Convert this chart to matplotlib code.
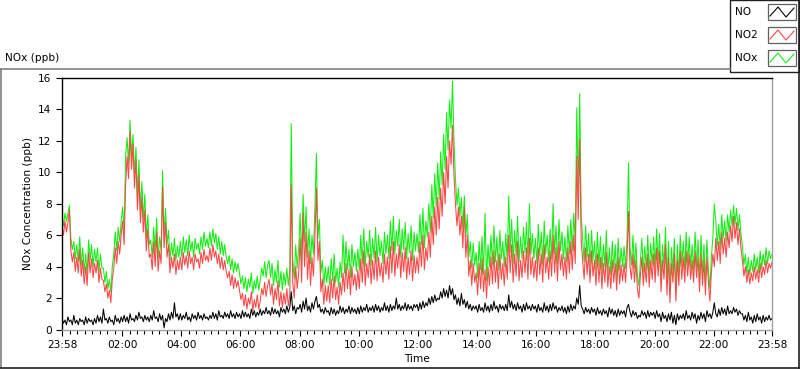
import numpy as np
import matplotlib
matplotlib.use("Agg")
import matplotlib.pyplot as plt
from matplotlib.lines import Line2D
from matplotlib.patches import Rectangle

plt.rcParams['font.family'] = ['DejaVu Sans']

# ---------------- data (3-minute samples, one row per hour after 23:58) ----------------
no2_rows = [
    [6.6, 6.0, 6.9, 6.2, 6.8, 7.6, 5.0, 4.3, 4.9, 3.7, 4.6, 3.6, 5.1, 3.4, 4.4, 2.9, 4.0, 2.8, 4.9, 3.6],
    [4.5, 3.3, 4.2, 3.6, 4.4, 3.0, 3.9, 3.2, 3.1, 2.4, 2.9, 2.0, 2.5, 1.7, 3.2, 3.9, 5.2, 4.2, 5.6, 4.8],
    [6.0, 6.9, 5.4, 9.2, 11.0, 9.6, 12.6, 10.2, 11.8, 9.0, 10.8, 7.6, 9.8, 6.8, 8.4, 6.2, 7.6, 5.0, 6.4, 4.6],
    [4.8, 3.8, 5.6, 4.0, 6.2, 3.7, 5.0, 4.2, 9.1, 5.2, 6.8, 4.6, 5.4, 3.6, 4.6, 3.9, 4.8, 3.5, 4.4, 3.8],
    [4.6, 3.8, 4.9, 4.1, 4.7, 3.9, 5.0, 4.2, 4.6, 3.8, 4.8, 4.3, 4.5, 3.9, 4.9, 4.2, 5.1, 4.4, 4.7, 4.3],
    [5.2, 4.4, 5.4, 4.6, 5.0, 4.2, 4.8, 3.9, 4.6, 3.8, 4.4, 3.7, 3.3, 3.7, 2.8, 3.5, 2.6, 3.3, 2.7, 3.1],
    [2.5, 1.9, 2.3, 1.5, 2.2, 1.3, 2.0, 1.6, 2.4, 1.2, 1.9, 1.4, 2.2, 1.3, 1.8, 2.6, 2.2, 3.0, 2.1, 2.8],
    [3.2, 2.2, 2.9, 1.6, 2.6, 1.9, 3.1, 1.5, 2.4, 1.4, 2.3, 1.6, 2.6, 1.5, 2.2, 9.2, 3.0, 2.0, 4.0, 2.6],
    [3.6, 5.8, 3.0, 7.4, 4.0, 6.2, 3.2, 5.0, 2.8, 4.6, 3.4, 6.0, 9.0, 4.4, 5.6, 2.4, 3.2, 1.6, 2.8, 1.8],
    [2.8, 1.7, 3.2, 2.0, 3.4, 1.9, 2.7, 1.6, 3.0, 2.2, 3.6, 2.4, 4.2, 2.6, 3.8, 2.2, 4.0, 2.8, 3.5, 2.5],
    [3.8, 2.6, 4.5, 3.0, 5.0, 2.8, 4.2, 3.3, 4.8, 2.9, 4.4, 3.2, 5.0, 3.1, 4.6, 3.4, 4.2, 3.0, 4.8, 3.5],
    [4.6, 3.2, 5.3, 3.6, 5.6, 3.4, 4.8, 3.9, 5.4, 3.3, 4.9, 3.7, 5.2, 3.2, 4.6, 3.5, 5.0, 3.1, 4.7, 3.6],
    [4.6, 3.6, 5.6, 4.0, 6.0, 3.8, 5.2, 4.4, 6.2, 4.6, 7.2, 5.4, 7.8, 6.0, 8.4, 6.4, 9.0, 7.2, 10.0, 8.0],
    [11.0, 9.0, 12.0, 10.5, 13.0, 9.8, 8.0, 6.6, 7.8, 6.0, 7.2, 5.2, 7.8, 4.6, 6.0, 3.4, 4.4, 2.8, 4.2, 3.0],
    [3.6, 2.2, 4.2, 2.6, 4.5, 2.4, 3.8, 2.0, 4.0, 2.8, 4.6, 2.9, 5.0, 3.0, 4.4, 2.6, 4.8, 3.2, 4.2, 2.8],
    [4.6, 3.2, 6.0, 3.6, 5.4, 3.0, 4.8, 3.4, 5.6, 3.1, 4.4, 3.3, 5.0, 3.6, 5.2, 3.2, 5.8, 3.5, 4.6, 3.3],
    [4.4, 3.1, 5.2, 3.5, 4.8, 3.0, 5.4, 3.6, 4.6, 3.2, 5.0, 3.4, 6.0, 3.6, 5.2, 3.1, 5.6, 3.8, 4.8, 3.4],
    [4.6, 3.2, 5.2, 3.6, 5.6, 3.8, 6.0, 4.2, 11.0, 7.0, 12.1, 5.6, 4.4, 3.2, 5.2, 3.5, 4.8, 3.0, 5.0, 3.4],
    [4.4, 2.8, 4.8, 3.0, 4.6, 2.6, 4.2, 3.0, 4.9, 2.7, 4.0, 2.6, 4.4, 3.0, 4.2, 2.5, 4.6, 2.9, 4.1, 3.1],
    [4.2, 3.0, 4.6, 7.5, 4.0, 3.2, 4.8, 3.0, 4.4, 2.6, 2.0, 3.4, 4.6, 2.8, 4.2, 3.0, 4.8, 2.7, 4.4, 3.2],
    [4.8, 3.0, 5.2, 3.4, 5.0, 2.4, 4.4, 3.2, 5.4, 2.2, 4.6, 1.7, 4.2, 3.0, 4.8, 1.8, 4.4, 2.8, 5.0, 3.2],
    [4.6, 3.0, 5.0, 3.4, 4.8, 3.2, 4.4, 3.0, 5.0, 3.3, 4.6, 2.4, 4.8, 2.8, 4.4, 2.2, 4.6, 3.0, 1.8, 3.6],
    [4.8, 4.0, 5.8, 4.4, 5.6, 4.2, 6.2, 4.8, 5.8, 4.6, 6.2, 5.2, 6.6, 5.6, 7.2, 5.8, 6.8, 5.4, 6.4, 5.2],
    [4.4, 3.4, 4.0, 3.0, 3.8, 2.9, 3.6, 3.1, 4.0, 3.2, 3.8, 3.0, 4.2, 3.3, 4.0, 3.5, 4.4, 3.6, 4.2, 3.9],
    [4.3],
]
nox_rows = [
    [7.3, 6.6, 7.4, 6.9, 7.4, 7.9, 5.8, 5.1, 5.6, 4.5, 5.4, 4.3, 5.9, 4.1, 5.2, 3.6, 4.8, 3.5, 5.7, 4.4],
    [5.4, 4.0, 5.1, 4.3, 5.2, 3.7, 4.8, 3.9, 3.9, 3.0, 3.7, 2.6, 3.2, 2.4, 4.0, 4.8, 6.2, 5.0, 6.5, 5.6],
    [6.9, 7.8, 6.2, 11.0, 12.2, 10.5, 13.3, 11.0, 12.4, 9.8, 11.6, 8.5, 10.8, 7.6, 9.4, 7.0, 8.6, 5.8, 7.3, 5.4],
    [5.7, 4.6, 6.5, 4.9, 7.1, 4.5, 5.9, 5.0, 10.1, 6.0, 7.7, 5.4, 6.3, 4.4, 5.5, 4.7, 5.8, 4.4, 5.3, 4.6],
    [5.6, 4.6, 5.9, 4.9, 5.7, 4.7, 6.0, 5.0, 5.6, 4.6, 5.8, 5.1, 5.5, 4.8, 5.9, 5.1, 6.2, 5.3, 5.8, 5.2],
    [6.2, 5.3, 6.4, 5.5, 6.1, 5.1, 5.9, 4.8, 5.6, 4.7, 5.4, 4.6, 4.2, 4.7, 3.8, 4.5, 3.6, 4.3, 3.7, 4.2],
    [3.6, 2.9, 3.4, 2.6, 3.3, 2.4, 3.2, 2.7, 3.6, 2.3, 3.1, 2.6, 3.4, 2.5, 3.1, 3.9, 3.4, 4.3, 3.3, 4.1],
    [4.4, 3.3, 4.2, 2.8, 3.8, 3.0, 4.4, 2.7, 3.7, 2.5, 3.6, 2.8, 3.9, 2.8, 3.8, 13.1, 4.4, 3.2, 5.4, 3.9],
    [5.2, 7.4, 4.4, 8.6, 5.6, 7.8, 4.6, 6.4, 4.2, 6.0, 4.8, 7.8, 11.2, 5.8, 7.0, 3.6, 4.4, 2.8, 4.0, 3.0],
    [4.0, 2.8, 4.5, 3.1, 4.8, 3.0, 3.9, 2.7, 4.3, 3.3, 6.0, 3.6, 5.6, 3.8, 5.1, 3.3, 5.4, 4.0, 4.9, 3.7],
    [5.1, 3.8, 6.0, 4.2, 6.4, 4.0, 5.6, 4.6, 6.3, 4.1, 5.8, 4.5, 6.5, 4.3, 6.0, 4.7, 5.6, 4.2, 6.2, 4.8],
    [6.0, 4.5, 6.9, 5.0, 7.2, 4.8, 6.3, 5.3, 7.0, 4.6, 6.4, 5.1, 6.8, 4.5, 6.1, 4.9, 6.6, 4.4, 6.2, 5.0],
    [6.1, 4.9, 7.3, 5.4, 7.7, 5.2, 6.9, 5.9, 8.0, 6.2, 9.2, 7.1, 9.9, 7.8, 10.6, 8.3, 11.3, 9.2, 12.4, 10.2],
    [13.8, 11.4, 14.6, 12.8, 15.8, 12.0, 9.6, 7.9, 9.0, 7.2, 8.4, 6.4, 8.5, 5.9, 7.3, 4.6, 5.6, 3.9, 5.5, 4.1],
    [4.9, 3.3, 5.6, 3.8, 5.9, 3.5, 7.4, 3.1, 5.4, 4.0, 6.0, 4.1, 6.6, 4.3, 5.9, 3.8, 6.3, 4.5, 5.6, 4.0],
    [6.1, 4.4, 8.5, 4.9, 7.0, 4.2, 6.3, 4.7, 7.2, 4.3, 5.9, 4.5, 6.5, 4.9, 6.8, 4.4, 8.0, 4.8, 6.1, 4.5],
    [5.8, 4.2, 6.7, 4.7, 6.2, 4.1, 6.9, 4.8, 6.0, 4.3, 6.4, 4.5, 8.0, 4.8, 6.6, 4.2, 7.0, 5.0, 6.2, 4.5],
    [5.9, 4.3, 6.6, 4.8, 7.0, 5.0, 7.4, 5.5, 14.1, 8.8, 15.0, 7.2, 5.7, 4.3, 6.6, 4.6, 6.1, 4.0, 6.3, 4.4],
    [5.6, 3.8, 6.2, 4.0, 5.9, 3.5, 5.4, 4.0, 6.3, 3.6, 5.2, 3.5, 5.6, 3.9, 5.4, 3.3, 5.8, 3.8, 5.2, 4.0],
    [5.3, 3.9, 5.8, 10.6, 5.2, 4.1, 6.0, 3.9, 5.5, 3.4, 2.8, 4.3, 5.8, 3.6, 5.3, 3.8, 6.0, 3.5, 5.5, 4.1],
    [5.9, 3.9, 6.4, 4.2, 6.1, 3.1, 5.4, 4.0, 6.5, 2.9, 5.6, 2.3, 5.2, 3.7, 5.8, 2.4, 5.4, 3.5, 6.0, 4.0],
    [5.6, 3.8, 6.2, 4.1, 5.9, 3.9, 5.4, 3.7, 6.2, 4.0, 5.7, 3.1, 6.0, 3.5, 5.4, 2.9, 5.7, 3.8, 2.6, 4.6],
    [5.8, 8.0, 6.9, 5.3, 6.7, 5.1, 7.3, 5.8, 6.9, 5.6, 7.3, 6.2, 7.6, 6.6, 7.9, 6.7, 7.7, 6.3, 7.3, 6.1],
    [5.3, 4.1, 4.8, 3.6, 4.6, 3.5, 4.4, 3.7, 4.8, 3.8, 4.6, 3.6, 5.0, 3.9, 4.8, 4.1, 5.2, 4.2, 5.0, 4.5],
    [4.8],
]
no_rows = [
    [0.7, 0.4, 0.6, 0.3, 0.8, 0.5, 0.6, 0.3, 0.9, 0.4, 0.6, 0.3, 0.7, 0.5, 0.6, 0.3, 0.8, 0.4, 0.7, 0.5],
    [0.6, 0.3, 0.7, 0.4, 0.9, 0.5, 0.8, 0.4, 1.3, 0.6, 0.7, 0.4, 0.8, 0.5, 0.6, 0.3, 0.9, 0.5, 0.7, 0.4],
    [0.8, 0.5, 0.9, 0.5, 0.8, 0.4, 1.0, 0.6, 0.7, 0.5, 0.9, 0.6, 1.1, 0.7, 0.8, 0.5, 0.9, 0.6, 0.8, 0.5],
    [0.9, 0.6, 1.2, 0.7, 0.8, 0.5, 1.0, 0.6, 0.9, 0.1, 0.7, 0.5, 1.0, 0.6, 1.1, 0.7, 1.7, 0.8, 1.0, 0.6],
    [1.0, 0.6, 0.9, 0.7, 1.1, 0.6, 0.8, 0.5, 1.0, 0.7, 0.9, 0.6, 1.1, 0.7, 0.9, 0.6, 1.0, 0.7, 0.8, 0.6],
    [0.9, 0.7, 1.1, 0.7, 1.0, 0.6, 1.2, 0.8, 0.9, 0.7, 1.1, 0.8, 1.0, 0.7, 1.2, 0.8, 1.0, 0.7, 1.1, 0.8],
    [1.0, 0.7, 1.2, 0.8, 1.1, 0.8, 1.0, 0.7, 1.3, 0.9, 1.2, 0.8, 1.1, 0.9, 1.3, 0.9, 1.2, 1.0, 1.4, 1.0],
    [1.2, 0.9, 1.4, 1.0, 1.3, 1.0, 1.2, 0.8, 1.4, 1.1, 1.3, 1.0, 1.5, 1.1, 1.4, 2.4, 1.2, 1.5, 1.0, 1.4],
    [1.3, 1.6, 1.1, 1.8, 1.3, 2.0, 1.2, 1.5, 1.1, 1.7, 1.3, 1.8, 2.1, 1.4, 1.6, 1.1, 1.3, 1.0, 1.4, 1.1],
    [1.2, 0.9, 1.4, 1.0, 1.3, 0.9, 1.2, 1.0, 1.5, 1.1, 1.4, 1.0, 1.3, 1.1, 1.5, 1.0, 1.4, 1.1, 1.3, 1.0],
    [1.4, 1.0, 1.5, 1.1, 1.4, 1.2, 1.6, 1.1, 1.4, 1.2, 1.5, 1.1, 1.6, 1.2, 1.5, 1.1, 1.4, 1.2, 1.7, 1.2],
    [1.5, 1.1, 1.6, 1.2, 1.5, 1.3, 2.0, 1.3, 1.6, 1.2, 1.5, 1.3, 1.7, 1.2, 1.6, 1.3, 1.5, 1.2, 1.6, 1.4],
    [1.6, 1.2, 1.7, 1.3, 1.8, 1.4, 1.7, 1.5, 2.0, 1.6, 2.1, 1.7, 2.2, 1.8, 2.0, 1.9, 2.4, 2.0, 2.6, 2.1],
    [2.5, 2.0, 2.8, 2.2, 2.6, 1.9, 2.2, 1.6, 2.0, 1.5, 2.3, 1.6, 1.9, 1.4, 1.8, 1.3, 1.6, 1.2, 1.5, 1.3],
    [1.5, 1.1, 1.6, 1.2, 1.4, 1.1, 1.7, 1.2, 1.5, 1.1, 1.6, 1.2, 1.8, 1.3, 1.5, 1.1, 1.6, 1.3, 1.5, 1.2],
    [1.6, 1.2, 2.2, 1.4, 1.8, 1.3, 1.6, 1.2, 1.7, 1.3, 1.5, 1.1, 1.6, 1.2, 1.7, 1.3, 1.5, 1.2, 1.6, 1.3],
    [1.5, 1.1, 1.6, 1.2, 1.4, 1.1, 1.7, 1.2, 1.5, 1.1, 1.6, 1.2, 1.7, 1.3, 1.5, 1.1, 1.4, 1.2, 1.5, 1.1],
    [1.4, 1.0, 1.5, 1.1, 1.6, 1.2, 1.5, 1.3, 2.0, 1.6, 2.8, 1.5, 1.3, 1.0, 1.4, 1.1, 1.3, 1.0, 1.4, 1.1],
    [1.3, 0.9, 1.4, 1.0, 1.2, 0.9, 1.3, 1.0, 1.2, 0.8, 1.4, 1.0, 1.3, 0.9, 1.2, 0.8, 1.3, 0.9, 1.2, 1.0],
    [1.2, 0.8, 1.4, 1.6, 1.1, 0.8, 1.2, 0.9, 1.1, 0.7, 0.9, 0.8, 1.2, 0.9, 1.1, 0.7, 1.2, 0.8, 1.1, 0.9],
    [1.1, 0.7, 1.2, 0.8, 1.0, 0.5, 1.1, 0.7, 0.9, 0.5, 1.0, 0.6, 1.1, 0.4, 0.9, 0.3, 1.0, 0.6, 0.9, 0.7],
    [1.0, 0.6, 1.2, 0.7, 0.9, 0.6, 1.1, 0.7, 1.0, 0.4, 0.9, 0.6, 1.1, 0.7, 1.0, 0.5, 1.2, 0.8, 1.0, 0.7],
    [1.1, 1.7, 1.0, 0.8, 1.3, 0.9, 1.4, 1.0, 1.3, 0.9, 1.5, 1.0, 1.2, 1.0, 1.4, 1.1, 1.3, 0.9, 1.2, 1.0],
    [1.0, 0.6, 0.9, 0.5, 1.1, 0.6, 0.8, 0.4, 0.9, 0.5, 1.0, 0.6, 0.8, 0.4, 0.9, 0.5, 0.8, 0.6, 0.9, 0.6],
    [0.7],
]
tick_labels = ["23:58", "02:00", "04:00", "06:00", "08:00", "10:00", "12:00",
               "14:00", "16:00", "18:00", "20:00", "22:00", "23:58"]
tick_minutes = [0, 122, 242, 362, 482, 602, 722, 842, 962, 1082, 1202, 1322, 1440]
series_names = ['NO', 'NO2', 'NOx']
series_colors = ['black', '#ff4545', '#11ee11']

no2 = np.concatenate([np.array(r, float) for r in no2_rows])
nox = np.concatenate([np.array(r, float) for r in nox_rows])
no = np.concatenate([np.array(r, float) for r in no_rows])


def hours(arr):
    return np.arange(len(arr)) * 3 / 60.0  # hours after 23:58


# ---------------- figure ----------------
W, H = 800, 369
fig = plt.figure(figsize=(W / 100, H / 100), dpi=100)
fig.patch.set_facecolor('white')


def fx(px):
    return px / W


def fy(py):
    return 1 - py / H


ax = fig.add_axes([fx(62), fy(329.5), fx(772) - fx(62), fy(78) - fy(329.5)])
ax.plot(hours(nox), nox, color=series_colors[2], lw=0.75)
ax.plot(hours(no2), no2, color=series_colors[1], lw=0.75)
ax.plot(hours(no), no, color=series_colors[0], lw=0.75)

ax.set_xlim(0, 24)
ax.set_ylim(0, 16)
ax.set_yticks([0, 2, 4, 6, 8, 10, 12, 14, 16])
major = [m / 60 for m in tick_minutes]
ax.set_xticks(major)
ax.set_xticklabels(tick_labels)
minor = []
for a, b in zip(major[:-1], major[1:]):
    for k in range(1, 8):
        minor.append(a + (b - a) * k / 8)
ax.set_xticks(minor, minor=True)

fs = 7.6
ax.tick_params(axis='both', which='major', length=4.5, width=0.8, color='black',
               labelsize=fs, pad=3)
ax.tick_params(axis='x', which='minor', length=3, width=0.8, color='black')
ax.tick_params(axis='y', which='minor', left=False)

ax.spines['top'].set_color('black')
ax.spines['left'].set_color('black')
ax.spines['right'].set_color('#a0a0a0')
ax.spines['bottom'].set_color('#a0a0a0')
for s in ax.spines.values():
    s.set_linewidth(1.0)

ax.set_ylabel('NOx Concentration (ppb)', fontsize=fs, labelpad=4)
ax.set_xlabel('Time', fontsize=fs, labelpad=3)

# outer panel frame
fig.add_artist(Line2D([fx(0), fx(730)], [fy(69), fy(69)], color='#808080', lw=1.2))
fig.add_artist(Line2D([fx(0.8), fx(0.8)], [fy(69), fy(367)], color='#808080', lw=1.2))
fig.add_artist(Line2D([fx(0), fx(799)], [fy(367.5), fy(367.5)], color='#202020', lw=1.2))
fig.add_artist(Line2D([fx(798.5), fx(798.5)], [fy(0), fy(368)], color='#202020', lw=1.2))

fig.text(fx(5), fy(58), 'NOx (ppb)', fontsize=fs, ha='left', va='center')

# legend box
fig.add_artist(Rectangle((fx(730), fy(71.5)), fx(798.5) - fx(730), fy(0) - fy(71.5),
                         facecolor='white', edgecolor='#202020', lw=1.0,
                         transform=fig.transFigure))
leg_y = [12, 35, 58]
for name, col, yc in zip(series_names, series_colors, leg_y):
    fig.text(fx(735), fy(yc), name, fontsize=fs, ha='left', va='center')
    fig.add_artist(Rectangle((fx(768), fy(yc + 8)), fx(796) - fx(768), fy(yc - 8) - fy(yc + 8),
                             facecolor='white', edgecolor='#606060', lw=0.9,
                             transform=fig.transFigure))
    zx = [770, 778, 786, 794]
    zy = [yc + 4, yc - 5, yc + 5, yc - 4]
    fig.add_artist(Line2D([fx(v) for v in zx], [fy(v) for v in zy], color=col, lw=0.8))

fig.savefig('out.png', dpi=100)
